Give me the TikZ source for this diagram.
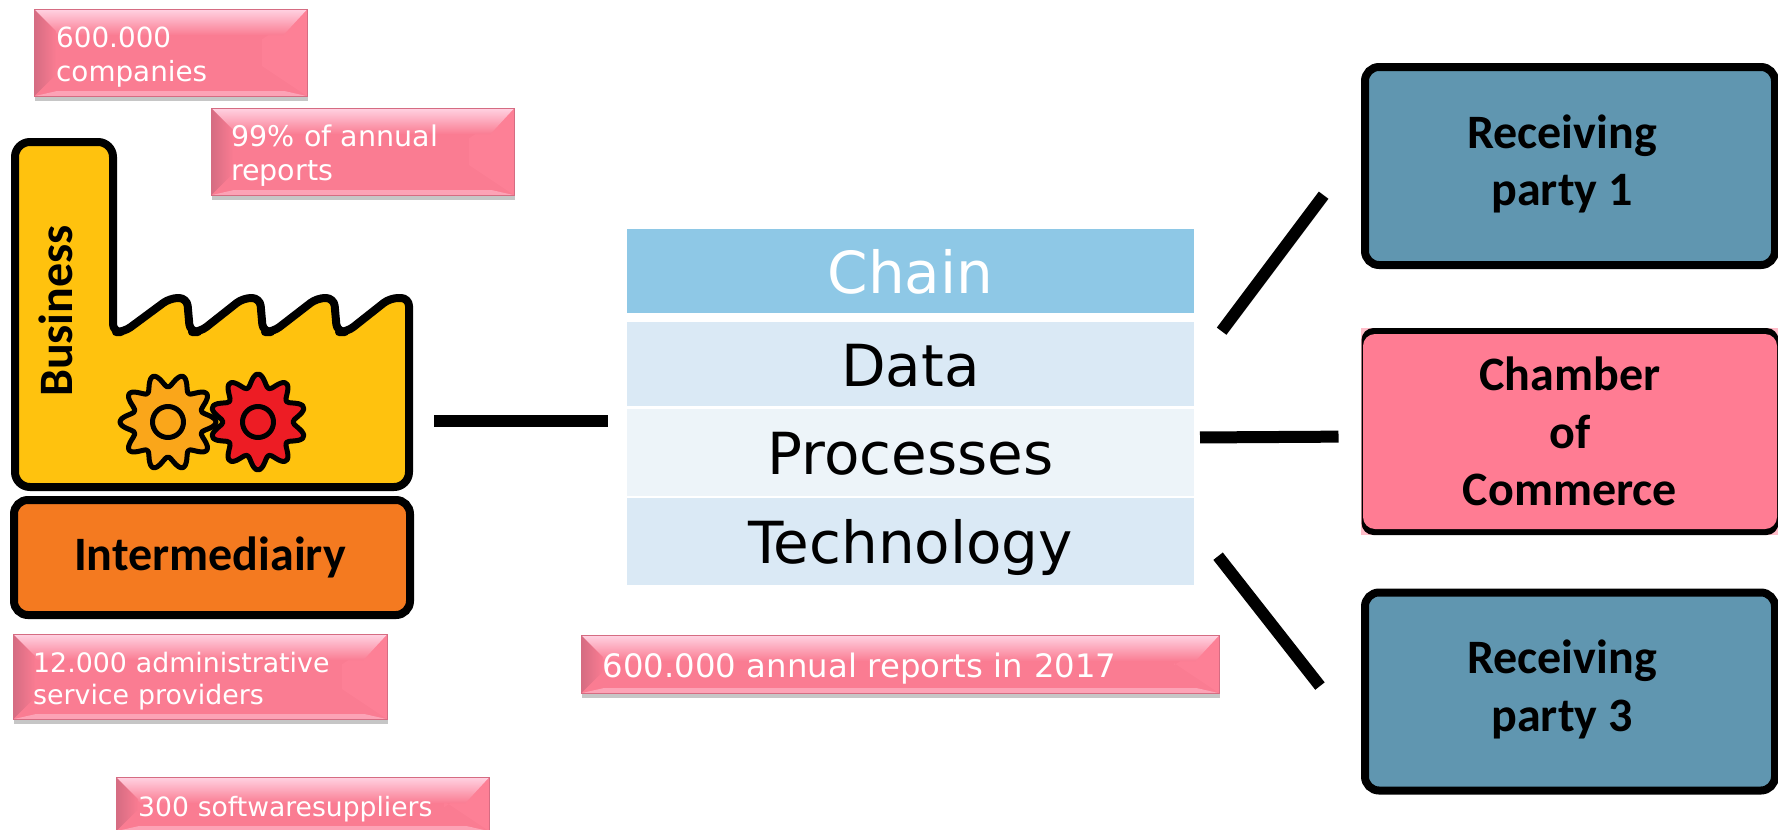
\documentclass[tikz,border=0pt]{standalone}
\usepackage{fontspec}
\setmainfont{DejaVu Sans}
\newfontfamily\labelfont{Carlito}
\usetikzlibrary{positioning,shadows}
\definecolor{calloutPink}{HTML}{FA7C92}
\definecolor{calloutRight}{HTML}{FD8096}
\definecolor{calloutLight}{HTML}{FFD2E2}
\definecolor{calloutDark}{HTML}{D56C82}
\definecolor{chamberPink}{HTML}{FF7C93}
\definecolor{partyBlue}{HTML}{6096B0}
\definecolor{factoryYellow}{HTML}{FFC20E}
\definecolor{brokerOrange}{HTML}{F47A20}
\definecolor{gearOrange}{HTML}{FAA61A}
\definecolor{gearRed}{HTML}{ED1C24}
\definecolor{chainBlue}{HTML}{8EC8E6}
\definecolor{rowBlue}{HTML}{DAE9F5}
\definecolor{rowPale}{HTML}{EDF4F9}
\begin{document}
\begin{tikzpicture}[
        x=1pt, y=-1pt,
        callout/.style={
            rectangle, draw = calloutDark, thin, fill = calloutPink, text = white, align = left,
            font = \fontsize{27}{34}\selectfont, inner xsep = 23pt, inner ysep = 0pt, anchor = north west,
            execute at begin node = {\rule{0pt}{30pt}},
            drop shadow = {shadow xshift = 1pt, shadow yshift = -5pt, opacity = 0.45},
            path picture={
                \coordinate (nw) at (path picture bounding box.north west);
                \coordinate (ne) at (path picture bounding box.north east);
                \coordinate (sw) at (path picture bounding box.south west);
                \coordinate (se) at (path picture bounding box.south east);
                \fill[calloutRight] (ne) -- ([xshift=-45pt,yshift=-30pt]ne) -- ([xshift=-45pt,yshift=30pt]se) -- (se) -- cycle;
                \shade[top color = calloutLight, bottom color = calloutPink] (nw) -- (ne) -- ([xshift=-24pt,yshift=-26pt]ne) -- ([xshift=24pt,yshift=-26pt]nw) -- cycle;
                \shade[left color = calloutDark, right color = calloutPink] (nw) -- ([xshift=22pt,yshift=-22pt]nw) -- ([xshift=22pt,yshift=22pt]sw) -- (sw) -- cycle;
                \fill[calloutLight!45!calloutPink] (sw) -- ([xshift=22pt,yshift=5pt]sw) -- ([xshift=-22pt,yshift=5pt]se) -- (se) -- cycle;
            }
        },
        stackRow/.style={
            rectangle, minimum width = 567pt, inner sep = 0pt, outer sep = 0pt, text = black,
            text height = 50pt, text depth = 6pt,
            font = \fontsize{58}{62}\selectfont
        },
        party/.style={
            rectangle, draw = black, line width = 8pt, rounded corners = 14pt, fill = partyBlue, align = center,
            minimum width = 410pt, minimum height = 198pt, inner sep = 0pt, outer sep = 0pt,
            font = \labelfont\bfseries\fontsize{48}{57.5}\selectfont
        },
        link/.style={
            line width = 12pt
        },
        factoryLine/.style={
            draw = black, line width = 8pt, line join = round
        },
        gear/.style={
            draw = black, line width = 5pt, line join = round
        },
    ]
        \useasboundingbox (0,0) rectangle (1778,830);

        \fill[chamberPink!50] (1361,328) rectangle (1778,535);

        \node (factory) [rectangle, minimum width = 402pt, minimum height = 354pt, inner sep = 0pt, outer sep = 0pt] at (212,315) {};
        \path[factoryLine, fill = factoryYellow, rounded corners = 15pt] (15,300) -- (15,142) -- (113,142) -- (113,250)
            [rounded corners = 8pt] -- (113,332) -- (124,332) -- (170,298) -- (187,298) -- (190,332) -- (200,332) -- (243,298) -- (260,298) -- (263,332) -- (273,332) -- (317,298) -- (334,298) -- (337,332) -- (347,332) -- (390,298) -- (409,298)
            [rounded corners = 15pt] -- (409,487) -- (15,487) -- cycle;
        \node (business) [rotate = 90, font = \labelfont\bfseries\fontsize{48}{50}\selectfont] at (56,311) {Business};

        \foreach \gearX/\gearTurn/\gearFill in {168/0/gearOrange,258/18/gearRed} {
            \draw[gear, fill = \gearFill, shift = {(\gearX,422)}] plot[domain = 0:356, samples = 90, smooth cycle] (\x:{41.5+6.5*cos(10*(\x-\gearTurn))});
            \draw[gear, shift = {(\gearX,422)}] (0,0) circle (15.5pt);
        }

        \node (intermediary) [party, fill = brokerOrange, minimum width = 396pt, minimum height = 115pt] at (212,557.5) {Intermediairy\hspace*{4pt}};

        \node (chain) [stackRow, fill = chainBlue, text = white, minimum height = 84pt] at (910.5,271) {Chain};
        \node (data) [stackRow, fill = rowBlue, minimum height = 84pt, below = 9pt of chain] {Data};
        \node (processes) [stackRow, fill = rowPale, minimum height = 87pt, below = 3pt of data] {Processes};
        \node (technology) [stackRow, fill = rowBlue, minimum height = 87pt, below = 2pt of processes] {Technology};

        \node (partyOne) [party] at (1570,166) {Receiving\hspace*{16pt}\\party 1\hspace*{16pt}\rule[-12pt]{0pt}{0pt}};
        \node (chamber) [party, line width = 0pt, draw = none, fill = black, minimum width = 417pt, minimum height = 207pt, below = 63pt of partyOne, rounded corners = 12pt,
            path picture = {\fill[chamberPink] ([xshift=1.5pt,yshift=6pt]path picture bounding box.south west) rectangle ([xshift=-1.5pt,yshift=-6pt]path picture bounding box.north east);}] {Chamber\\of\\Commerce};
        \node (partyThree) [party] at (1570,691.5) {Receiving\hspace*{16pt}\\party 3\hspace*{16pt}\rule[-12pt]{0pt}{0pt}};

        \node (companies) [callout, text width = 229pt, minimum height = 87pt, inner xsep = 22pt, font = \fontsize{27.8}{34}\selectfont] at (34,9) {600.000\\companies};
        \node (reports) [callout, text width = 263pt, minimum height = 87pt, inner xsep = 20pt, font = \fontsize{28.5}{34}\selectfont] at (211,108) {99\% of annual\\reports};
        \node (providers) [callout, text width = 334pt, minimum height = 85pt, inner xsep = 20pt, font = \fontsize{26.8}{32}\selectfont] at (13,634) {12.000 administrative\\service providers};
        \node (suppliers) [callout, text width = 329pt, minimum height = 54pt, inner xsep = 22pt, font = \fontsize{26.6}{32}\selectfont] at (116,777) {300 softwaresuppliers};
        \node (annual) [callout, text width = 595pt, minimum height = 58pt, inner xsep = 21.5pt, font = \fontsize{32.3}{38}\selectfont, execute at begin node = {\rule{0pt}{34pt}}] at (581,635) {600.000 annual reports in 2017};

        \draw[link, shorten <= 21pt, shorten >= 19pt] ([yshift=-106pt]factory.east) -- ([yshift=-12pt]processes.north west);
        \draw[link, shorten <= 46pt, shorten >= 69pt] ([yshift=-4pt]data.east) -- ([yshift=26pt]partyOne.west);
        \draw[link, shorten <= 6pt, shorten >= 23pt] ([yshift=15pt]processes.east) -- ([yshift=-5pt]chamber.west);
        \draw[link, shorten <= 39pt, shorten >= 73pt] ([yshift=16pt]technology.east) -- ([yshift=-52pt]partyThree.west);
    \end{tikzpicture}
\end{document}
